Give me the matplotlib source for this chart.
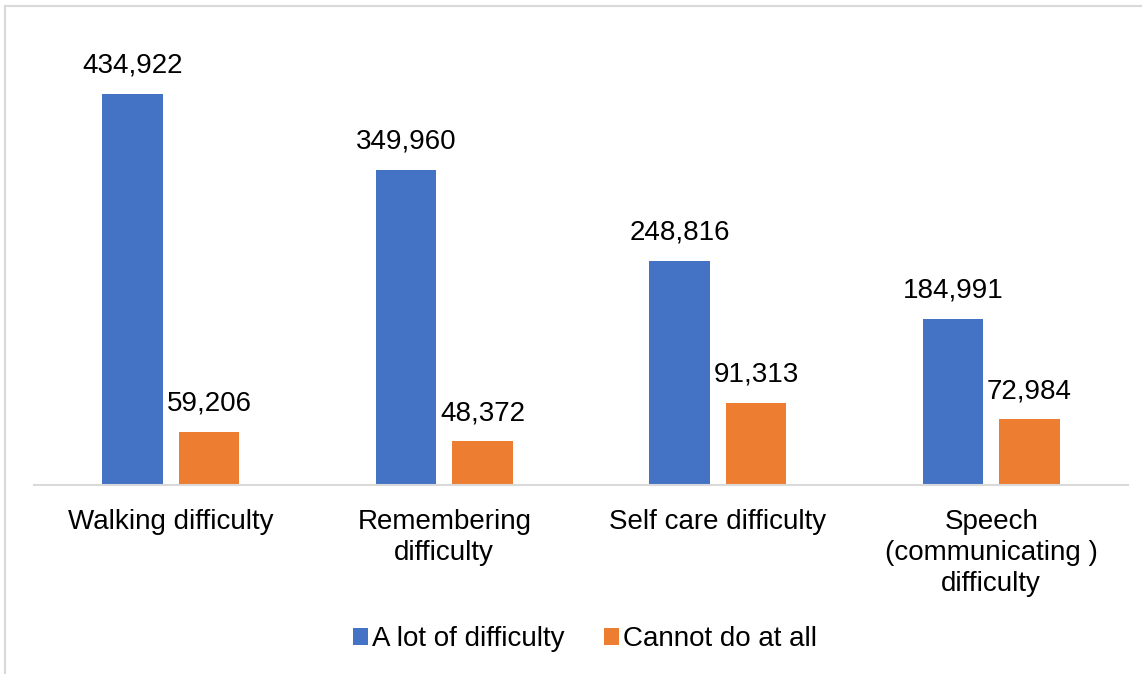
import matplotlib.pyplot as plt
from matplotlib.lines import Line2D
import numpy as np

plt.rcParams['font.family'] = ['Liberation Sans', 'DejaVu Sans']

categories = ["Walking difficulty", "Remembering\ndifficulty",
              "Self care difficulty", "Speech\n(communicating )\ndifficulty"]
a_lot = [434922, 349960, 248816, 184991]
cannot = [59206, 48372, 91313, 72984]
series_names = ["A lot of difficulty", "Cannot do at all"]

blue = "#4472C4"
orange = "#ED7D31"

fig = plt.figure(figsize=(11.42, 6.74), dpi=100)
W, H = 1142, 674
ax = fig.add_axes([34 / W, 1 - 485 / H, (1128 - 34) / W, (485 - 20) / H])

x = np.arange(len(categories))
bw = 0.22
gap = 0.06
b1 = ax.bar(x - (bw + gap) / 2, a_lot, bw, color=blue, label=series_names[0])
b2 = ax.bar(x + (bw + gap) / 2, cannot, bw, color=orange, label=series_names[1])

for bars, vals in ((b1, a_lot), (b2, cannot)):
    for rect, v in zip(bars, vals):
        ax.annotate(f"{v:,}", (rect.get_x() + rect.get_width() / 2, v),
                    xytext=(0, 11), textcoords='offset points',
                    ha='center', va='bottom', fontsize=20, color='black')

ax.set_xlim(-0.5, len(categories) - 0.5)
ax.set_ylim(0, 517000)
ax.set_yticks([])
ax.set_xticks(x)
ax.set_xticklabels(categories, fontsize=20, linespacing=1.25, va='top')
ax.tick_params(axis='x', length=0, pad=17)
for s in ('top', 'right', 'left'):
    ax.spines[s].set_visible(False)
ax.spines['bottom'].set_color('#D9D9D9')
ax.spines['bottom'].set_linewidth(1.5)

fig.legend(handles=[b1, b2], labels=series_names, loc='center',
           bbox_to_anchor=(585 / W, 1 - 639 / H), ncol=2, frameon=False,
           fontsize=20, handlelength=0.55, handleheight=0.55,
           handletextpad=0.15, columnspacing=1.4)

# outer chart border (left and top edges visible)
fig.add_artist(Line2D([4.5 / W, 4.5 / W], [0, 1 - 6 / H], color='#D9D9D9',
                      lw=1.5, transform=fig.transFigure))
fig.add_artist(Line2D([4.5 / W, 1], [1 - 6 / H, 1 - 6 / H], color='#D9D9D9',
                      lw=1.5, transform=fig.transFigure))

fig.savefig("out.png", dpi=100)
plt.close(fig)
